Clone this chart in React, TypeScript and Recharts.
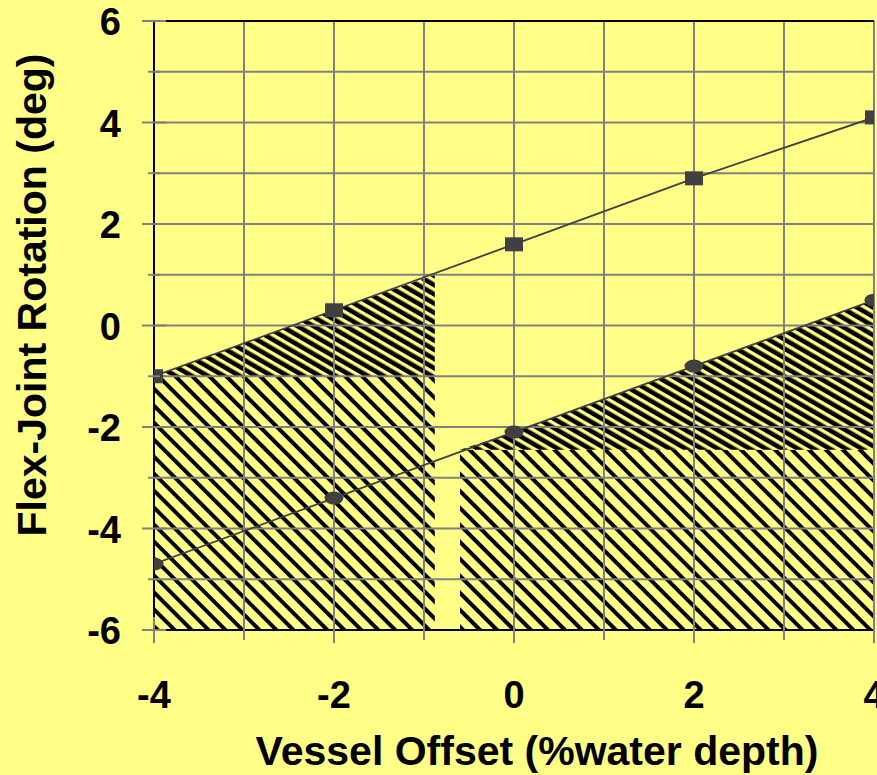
import React from 'react'
import { ComposedChart, Area, Line, XAxis, YAxis, ReferenceLine } from 'recharts'

// axis ticks (labels only on the even values)
const xTicks = [-4, -3, -2, -1, 0, 1, 2, 3, 4]
const yTicks = [-6, -5, -4, -3, -2, -1, 0, 1, 2, 3, 4, 5, 6]

// series
const offsets = [-4, -2, 0, 2, 4]
const upperRotation = [-1, 0.3, 1.6, 2.9, 4.1]
const lowerRotation = [-4.7, -3.4, -2.1, -0.8, 0.5]

// hatched zones
const leftBlockX = [-4, -0.88]
const leftBlockLow = [-6, -6]
const leftBlockHigh = [-1, -1]
const leftWedgeX = [-4, -2, -0.88]
const leftWedgeLow = [-1, -1, -1]
const leftWedgeHigh = [-1, 0.3, 1.0]
const rightBlockX = [-0.6, 4]
const rightBlockLow = [-6, -6]
const rightBlockHigh = [-2.45, -2.45]
const rightWedgeX = [-0.6, 0, 2, 4]
const rightWedgeLow = [-2.45, -2.45, -2.45, -2.45]
const rightWedgeHigh = [-2.45, -2.1, -0.8, 0.5]

const BG = '#FFFF88'
const GRID = '#808080'
const INK = '#404040'
const FONT = 'Arial, "Liberation Sans", sans-serif'

const toRange = (xs: number[], lo: number[], hi: number[]) =>
  xs.map((x, i) => ({ x, range: [lo[i], hi[i]] }))
const toPoints = (xs: number[], ys: number[]) => xs.map((x, i) => ({ x, y: ys[i] }))

const leftBlock = toRange(leftBlockX, leftBlockLow, leftBlockHigh)
const leftWedge = toRange(leftWedgeX, leftWedgeLow, leftWedgeHigh)
const rightBlock = toRange(rightBlockX, rightBlockLow, rightBlockHigh)
const rightWedge = toRange(rightWedgeX, rightWedgeLow, rightWedgeHigh)
const upperData = toPoints(offsets, upperRotation)
const lowerData = toPoints(offsets, lowerRotation)

function XTick({ x, y, payload }: any) {
  const major = payload.value % 2 === 0
  const len = major ? 13 : 10
  return (
    <g>
      <line x1={x} x2={x} y1={y - len} y2={y + len} stroke={GRID} strokeWidth={2} />
      {major && (
        <text x={x} y={y + 78} textAnchor="middle" fontFamily={FONT} fontWeight="bold" fontSize={38} fill="#000">
          {payload.value}
        </text>
      )}
    </g>
  )
}

function YTick({ x, y, payload }: any) {
  const major = payload.value % 2 === 0
  const len = major ? 12 : 6
  return (
    <g>
      <line x1={x - len} x2={x + len} y1={y} y2={y} stroke={GRID} strokeWidth={2} />
      {major && (
        <text x={x - 33} y={y + 14} textAnchor="end" fontFamily={FONT} fontWeight="bold" fontSize={38} fill="#000">
          {payload.value}
        </text>
      )}
    </g>
  )
}

const squareDot = (p: any) => (
  <rect key={`s${p.index}`} x={p.cx - 9} y={p.cy - 7} width={18} height={14} fill={INK} />
)
const roundDot = (p: any) => (
  <ellipse key={`c${p.index}`} cx={p.cx} cy={p.cy} rx={9.5} ry={6.5} fill={INK} />
)

export default function App() {
  return (
    <div style={{ position: 'absolute', left: 0, top: 0, width: 877, height: 775, background: BG, overflow: 'hidden' }}>
      <ComposedChart width={877} height={775} margin={{ top: 21, right: 3, left: 0, bottom: 0 }}>
        <defs>
          <pattern id="coarse" patternUnits="userSpaceOnUse" width={12} height={12} patternTransform="rotate(-45)">
            <rect x={0} y={0} width={12} height={12} fill={BG} />
            <rect x={0} y={0} width={4} height={12} fill="#000" />
          </pattern>
          <pattern id="dense" patternUnits="userSpaceOnUse" width={8} height={10} patternTransform="rotate(-60)">
            <rect x={0} y={0} width={8} height={10} fill={BG} />
            <rect x={0} y={0} width={4.6} height={10} fill="#000" />
          </pattern>
        </defs>
        <XAxis
          type="number"
          dataKey="x"
          domain={[-4, 4]}
          ticks={xTicks}
          interval={0}
          allowDataOverflow
          height={145}
          tickSize={0}
          tickMargin={0}
          axisLine={{ stroke: '#000', strokeWidth: 2 }}
          tick={<XTick />}
          label={({ viewBox }: any) => (
            <text x={537} y={viewBox.y + 135} textAnchor="middle" fontFamily={FONT} fontWeight="bold" fontSize={41} fill="#000">
              Vessel Offset (%water depth)
            </text>
          )}
        />
        <YAxis
          type="number"
          domain={[-6, 6]}
          ticks={yTicks}
          interval={0}
          allowDataOverflow
          width={154}
          tickSize={0}
          tickMargin={0}
          axisLine={{ stroke: '#000', strokeWidth: 2 }}
          tick={<YTick />}
          label={() => (
            <text x={46} y={295} transform="rotate(-90 46 295)" textAnchor="middle" fontFamily={FONT} fontWeight="bold" fontSize={41} fill="#000">
              Flex-Joint Rotation (deg)
            </text>
          )}
        />
        <Area data={leftBlock} dataKey="range" type="linear" fill="url(#coarse)" fillOpacity={1} stroke="none" isAnimationActive={false} activeDot={false} />
        <Area data={leftWedge} dataKey="range" type="linear" fill="url(#dense)" fillOpacity={1} stroke="none" isAnimationActive={false} activeDot={false} />
        <Area data={rightBlock} dataKey="range" type="linear" fill="url(#coarse)" fillOpacity={1} stroke="none" isAnimationActive={false} activeDot={false} />
        <Area data={rightWedge} dataKey="range" type="linear" fill="url(#dense)" fillOpacity={1} stroke="none" isAnimationActive={false} activeDot={false} />
        {xTicks.slice(1).map((v) => (
          <ReferenceLine key={`gx${v}`} x={v} stroke={GRID} strokeWidth={2} />
        ))}
        {yTicks.slice(1, -1).map((v) => (
          <ReferenceLine key={`gy${v}`} y={v} stroke={GRID} strokeWidth={2} />
        ))}
        <ReferenceLine y={6} stroke="#000" strokeWidth={2} />
        <Line data={upperData} dataKey="y" type="linear" stroke={INK} strokeWidth={1.8} dot={squareDot} activeDot={false} isAnimationActive={false} />
        <Line data={lowerData} dataKey="y" type="linear" stroke={INK} strokeWidth={1.8} dot={roundDot} activeDot={false} isAnimationActive={false} />
      </ComposedChart>
    </div>
  )
}
